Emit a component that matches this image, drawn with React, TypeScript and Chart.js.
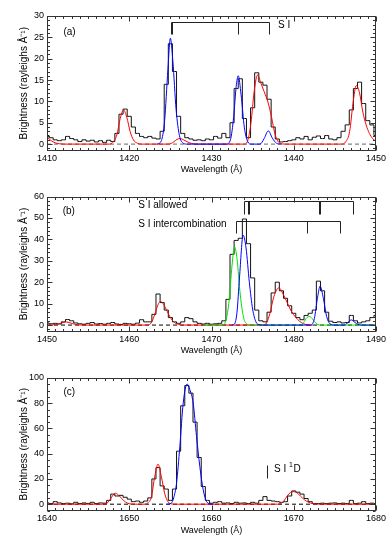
import React, { useEffect, useRef } from "react";
import { Chart, registerables } from "chart.js";

Chart.register(...registerables);

const FONT_FAMILY = "'Liberation Sans', Arial, Helvetica, sans-serif";

// ---------------- Panel (a) data ----------------
const histStartA = 1410;
const histStepA = 0.5;
const histA = [
  2.0, 1.5, 1.0, 0.8, 1.0, 1.8, 1.3, 1.0, 0.6, 1.0,
  0.7, 0.9, 0.5, 0.8, 0.4, 0.9, 0.6, 2.5, 7.0, 8.2,
  6.5, 4.0, 2.5, 1.8, 1.5, 1.8, 1.4, 1.2, 3.0, 14.0,
  23.5, 17.0, 6.5, 2.5, 1.5, 1.2, 0.9, 1.0, 0.8, 1.2,
  1.0, 1.8, 1.4, 2.5, 1.5, 5.0, 13.0, 15.3, 6.0, 1.5,
  8.5, 16.7, 14.5, 13.8, 10.5, 4.0, 1.2, 0.5, 0.6, 0.8,
  1.0, 1.5, 1.2, 1.8, 1.0, 1.6, 1.9, 1.3, 2.0, 1.2,
  1.0, 1.5, 3.0, 4.5, 8.0, 13.0, 14.5, 9.5, 5.5, 4.5,
  2.0,
];
const redFitA = [
  [1410, 1.7], [1410.5, 0.8], [1411, 0.3], [1411.5, 0.08], [1412, 0], [1417.6, 0],
  [1418, 0.4], [1418.5, 2.2], [1418.9, 6.0], [1419.3, 8.0], [1419.7, 6.3], [1420.1, 3.0],
  [1420.5, 1.0], [1421, 0.2], [1421.5, 0], [1424.8, 0], [1425.4, 0.5], [1425.8, 1.1],
  [1426.2, 1.3], [1426.6, 1.0], [1427.1, 0.5], [1427.6, 0.15], [1428.2, 0], [1434.0, 0],
  [1434.4, 0.8], [1434.8, 5.0], [1435.2, 12.5], [1435.6, 16.2], [1436.0, 14.3], [1436.4, 12.3],
  [1436.9, 9.6], [1437.3, 6.3], [1437.7, 2.5], [1438.1, 0.6], [1438.6, 0.05], [1439, 0],
  [1445.8, 0], [1446.3, 0.5], [1446.8, 3.0], [1447.2, 9.5], [1447.6, 13.7], [1448.0, 12.0],
  [1448.4, 7.5], [1448.8, 4.5], [1449.2, 2.5], [1449.6, 1.3], [1450, 0.6],
];
const blueFitA = [
  [1423.4, 0], [1423.9, 0.8], [1424.3, 5.5], [1424.7, 17.5], [1425.0, 24.8], [1425.3, 19.5],
  [1425.7, 8.0], [1426.1, 2.0], [1426.5, 0.3], [1427, 0], [1431.8, 0], [1432.3, 1.0],
  [1432.7, 6.5], [1433.0, 13.5], [1433.25, 16.0], [1433.6, 11.5], [1434.0, 3.8], [1434.4, 0.6],
  [1434.8, 0], [1435.9, 0], [1436.4, 1.3], [1436.9, 3.1], [1437.4, 1.4], [1437.9, 0.2], [1438.4, 0],
];
const xTicksA = [1410, 1420, 1430, 1440, 1450];
const yTicksA = [0, 5, 10, 15, 20, 25, 30];
const siLinesA = [1425.03, 1425.19, 1433.28, 1436.97];

// ---------------- Panel (b) data ----------------
const histStartB = 1450;
const histStepB = 0.5;
const histB = [
  1.0, 0.6, 0.8, 0.5, 1.5, 2.6, 2.0, 1.0, 0.6, 0.4,
  0.8, 1.2, 0.5, 0.7, 0.4, 0.8, 1.2, 0.5, 0.3, 0.8,
  0.6, 0.4, 0.9, 2.5, 1.5, 1.5, 5.0, 14.5, 10.5, 7.0,
  3.5, 1.5, 0.8, 1.5, 3.5, 3.0, 1.5, 0.8, 0.5, 0.8,
  0.4, 0.6, 0.8, 2.0, 12.0, 33.0, 39.5, 40.5, 49.5, 38.0,
  22.0, 7.0, 2.0, 1.5, 6.0, 15.0, 20.0, 16.0, 12.5, 9.0,
  5.5, 3.5, 2.5, 4.5, 5.5, 7.0, 20.5, 16.0, 6.0, 1.8,
  1.2, 1.5, 1.0, 1.2, 4.5, 2.0, 1.0, 1.5, 2.0, 3.5,
  4.5,
];
const redFitB = [
  [1450, 0], [1451, 0.2], [1451.8, 1.0], [1452.3, 1.5], [1452.8, 1.0], [1453.5, 0.3],
  [1454.2, 0], [1462.2, 0], [1462.7, 1.2], [1463.1, 5.0], [1463.5, 9.5], [1463.8, 11.0],
  [1464.2, 9.5], [1464.6, 6.5], [1465.0, 3.5], [1465.5, 1.2], [1466.0, 0.3], [1466.5, 0],
  [1476.3, 0], [1476.7, 1.0], [1477.1, 5.5], [1477.6, 13.5], [1478.2, 17.4], [1478.7, 14.5],
  [1479.2, 10.5], [1479.7, 6.5], [1480.2, 3.8], [1480.7, 1.8], [1481.2, 0.6], [1481.8, 0.1],
  [1482.3, 0],
];
const greenFitB = [
  [1469, 0], [1471.3, 0], [1471.7, 1.5], [1472.1, 10], [1472.5, 28], [1472.8, 36.6],
  [1473.1, 31], [1473.5, 14], [1473.9, 3.5], [1474.3, 0.5], [1474.8, 0], [1480.8, 0],
  [1481.2, 1.2], [1481.6, 3.5], [1481.9, 4.0], [1482.3, 2.8], [1482.7, 0.8], [1483.2, 0],
  [1490, 0],
];
const blueFitB = [
  [1472.5, 0], [1472.8, 0.5], [1473.1, 6], [1473.4, 22], [1473.85, 41.9], [1474.2, 36],
  [1474.6, 20], [1475.0, 7.5], [1475.4, 1.5], [1475.8, 0.2], [1476.2, 0], [1482.1, 0],
  [1482.5, 3], [1482.9, 13], [1483.2, 18.2], [1483.6, 12.5], [1484.0, 4], [1484.4, 0.6],
  [1484.9, 0], [1486.2, 0], [1486.6, 1.3], [1487.0, 2.4], [1487.4, 1.3], [1487.9, 0.2],
  [1488.4, 0], [1490, 0],
];
const xTicksB = [1450, 1460, 1470, 1480, 1490];
const yTicksB = [0, 10, 20, 30, 40, 50, 60];
const siAllowedLinesB = [1473.99, 1474.38, 1474.57, 1483.04, 1483.23, 1487.15];
const siInterLinesB = [1472.97, 1481.66, 1485.62];

// ---------------- Panel (c) data ----------------
const histStartC = 1640;
const histStepC = 0.5;
const histC = [
  1.0, 0.5, 2.0, 1.0, 0.5, 0.8, 0.3, 1.5, 0.5, 1.0,
  0.6, 1.5, 0.5, 1.0, 0.8, 3.0, 8.0, 6.5, 7.0, 5.5,
  4.0, 2.0, 2.5, 1.5, 2.5, 5.0, 20.0, 29.0, 14.5, 12.0,
  3.0, 12.0, 42.0, 78.0, 94.0, 88.0, 65.0, 37.0, 14.0, 3.0,
  0.8, 1.5, 2.0, 0.8, 1.0, 0.5, 1.5, 0.8, 1.0, 0.5,
  1.5, 0.8, 3.0, 6.0, 3.0, 2.5, 2.0, 1.5, 2.0, 6.5,
  10.5, 9.5, 8.0, 4.5, 2.0, 0.5, 0.5, 0.8, 0.5, 0.8,
  1.0, 0.5, 0.8, 0.5, 3.0, 0.5, 0.8, 2.0, 0.5, 0.8,
  0.5,
];
const redFitC = [
  [1640, 0], [1646.8, 0], [1647.3, 0.8], [1647.8, 5], [1648.3, 8.7], [1648.8, 6.5],
  [1649.3, 3], [1649.8, 0.8], [1650.3, 0.1], [1650.8, 0], [1651.8, 0], [1652.3, 1.2],
  [1652.7, 6.0], [1653.1, 22], [1653.5, 31.7], [1653.9, 22], [1654.3, 8.7], [1654.7, 2.0],
  [1655.1, 0.3], [1655.6, 0], [1668.0, 0], [1668.4, 0.5], [1668.8, 2.5], [1669.2, 6.5],
  [1669.6, 9.2], [1670.0, 10.0], [1670.4, 9.0], [1670.8, 6.5], [1671.3, 3.5], [1671.8, 1.5],
  [1672.3, 0.5], [1673, 0], [1680, 0],
];
const blueFitC = [
  [1654.6, 0], [1655.1, 0.8], [1655.4, 5], [1655.75, 16.7], [1656.15, 45.8], [1656.56, 80.2],
  [1657.04, 95.2], [1657.37, 90.7], [1657.77, 80.2], [1658.18, 53.7], [1658.58, 29.9],
  [1658.99, 11.4], [1659.4, 2.1], [1659.8, 0.3], [1660.2, 0],
];
const xTicksC = [1640, 1650, 1660, 1670, 1680];
const yTicksC = [0, 20, 40, 60, 80, 100];
const siDLineC = [1666.7];

// ---------------- helpers ----------------
type Bracket = { lines: number[]; top: number; bottom: number };
type Label = { x: number; y: number; text: string; sup?: string; after?: string };

type PanelDef = {
  canvasTop: number;
  canvasHeight: number;
  padTop: number;
  xMin: number;
  xMax: number;
  yMin: number;
  yMax: number;
  xTicks: number[];
  yTicks: number[];
  xMinorStep: number;
  yMinorStep: number;
  histStart: number;
  histStep: number;
  hist: number[];
  fits: { data: number[][]; color: string }[];
  zeroColor: string;
  brackets: Bracket[];
  labels: Label[];
  titleBottomPad: number;
};

const panels: PanelDef[] = [
  {
    canvasTop: 0,
    canvasHeight: 181,
    padTop: 16,
    xMin: 1410, xMax: 1450, yMin: -1.5, yMax: 30,
    xTicks: xTicksA, yTicks: yTicksA, xMinorStep: 1, yMinorStep: 1,
    histStart: histStartA, histStep: histStepA, hist: histA,
    fits: [
      { data: blueFitA, color: "#0000ff" },
      { data: redFitA, color: "#ff0000" },
    ],
    zeroColor: "#666666",
    brackets: [{ lines: siLinesA, top: 28.6, bottom: 25.8 }],
    labels: [
      { x: 1412.0, y: 26.1, text: "(a)" },
      { x: 1438.1, y: 27.9, text: "S I" },
    ],
    titleBottomPad: 6.5,
  },
  {
    canvasTop: 181,
    canvasHeight: 181,
    padTop: 15.5,
    xMin: 1450, xMax: 1490, yMin: -3, yMax: 60,
    xTicks: xTicksB, yTicks: yTicksB, xMinorStep: 1, yMinorStep: 2,
    histStart: histStartB, histStep: histStepB, hist: histB,
    fits: [
      { data: blueFitB, color: "#0000ff" },
      { data: greenFitB, color: "#00e000" },
      { data: redFitB, color: "#ff0000" },
    ],
    zeroColor: "#000000",
    brackets: [
      { lines: siAllowedLinesB, top: 57.9, bottom: 51.8 },
      { lines: siInterLinesB, top: 48.6, bottom: 42.8 },
    ],
    labels: [
      { x: 1451.9, y: 53.2, text: "(b)" },
      { x: 1461.1, y: 56.0, text: "S I allowed" },
      { x: 1461.1, y: 47.2, text: "S I intercombination" },
    ],
    titleBottomPad: 6.5,
  },
  {
    canvasTop: 362,
    canvasHeight: 179,
    padTop: 16,
    xMin: 1640, xMax: 1680, yMin: -5, yMax: 100,
    xTicks: xTicksC, yTicks: yTicksC, xMinorStep: 1, yMinorStep: 5,
    histStart: histStartC, histStep: histStepC, hist: histC,
    fits: [
      { data: blueFitC, color: "#0000ff" },
      { data: redFitC, color: "#ff0000" },
    ],
    zeroColor: "#000000",
    brackets: [{ lines: siDLineC, top: 31.2, bottom: 20.9 }],
    labels: [
      { x: 1642.0, y: 88.6, text: "(c)" },
      { x: 1667.6, y: 28.0, text: "S I ", sup: "1", after: "D" },
    ],
    titleBottomPad: 5.5,
  },
];

const framePlugin = {
  id: "idlFrame",
  afterDraw(chart: any, _args: any, opts: any) {
    const def: PanelDef = opts.def;
    if (!def) return;
    const { ctx, chartArea } = chart;
    const { left, right, top, bottom } = chartArea;
    const xs = chart.scales.x;
    const ys = chart.scales.y;
    ctx.save();
    ctx.strokeStyle = "#333333";
    ctx.lineWidth = 1;
    const L = Math.round(left) + 0.5;
    const R = Math.round(right) - 0.5;
    const T = Math.round(top) + 0.5;
    const B = Math.round(bottom) - 0.5;
    ctx.strokeRect(L, T, R - L, B - T);

    ctx.beginPath();
    const eps = 1e-6;
    for (let v = def.xMin; v <= def.xMax + eps; v += def.xMinorStep) {
      const isMajor = def.xTicks.some((t) => Math.abs(t - v) < eps);
      const len = isMajor ? 5 : 2.5;
      const px = Math.round(xs.getPixelForValue(v)) + 0.5;
      ctx.moveTo(px, B);
      ctx.lineTo(px, B - len);
      ctx.moveTo(px, T);
      ctx.lineTo(px, T + len);
    }
    const yStart = Math.ceil(def.yMin / def.yMinorStep) * def.yMinorStep;
    for (let v = yStart; v <= def.yMax + eps; v += def.yMinorStep) {
      const isMajor = def.yTicks.some((t) => Math.abs(t - v) < eps);
      const len = isMajor ? 5 : 2.5;
      const py = Math.round(ys.getPixelForValue(v)) + 0.5;
      ctx.moveTo(L, py);
      ctx.lineTo(L + len, py);
      ctx.moveTo(R, py);
      ctx.lineTo(R - len, py);
    }
    ctx.stroke();

    // brackets
    ctx.strokeStyle = "#222222";
    ctx.beginPath();
    for (const b of def.brackets) {
      const yT = Math.round(ys.getPixelForValue(b.top)) + 0.5;
      const yB = Math.round(ys.getPixelForValue(b.bottom)) + 0.5;
      const xsP = b.lines.map((l) => Math.round(xs.getPixelForValue(l)) + 0.5);
      if (xsP.length > 1) {
        ctx.moveTo(Math.min(...xsP), yT);
        ctx.lineTo(Math.max(...xsP), yT);
      }
      for (const px of xsP) {
        ctx.moveTo(px, yT);
        ctx.lineTo(px, yB);
      }
    }
    ctx.stroke();

    // labels
    ctx.fillStyle = "#000000";
    ctx.textBaseline = "middle";
    ctx.textAlign = "left";
    for (const lab of def.labels) {
      const px = xs.getPixelForValue(lab.x);
      const py = ys.getPixelForValue(lab.y);
      ctx.font = `10px ${FONT_FAMILY}`;
      ctx.fillText(lab.text, px, py);
      let cx = px + ctx.measureText(lab.text).width;
      if (lab.sup) {
        ctx.font = `7px ${FONT_FAMILY}`;
        ctx.fillText(lab.sup, cx, py - 4);
        cx += ctx.measureText(lab.sup).width + 0.5;
      }
      if (lab.after) {
        ctx.font = `10px ${FONT_FAMILY}`;
        ctx.fillText(lab.after, cx, py);
      }
    }
    ctx.restore();
  },
};

function Panel({ def }: { def: PanelDef }) {
  const ref = useRef<HTMLCanvasElement | null>(null);

  useEffect(() => {
    if (!ref.current) return;
    const histData = def.hist.map((v, i) => ({ x: def.histStart + i * def.histStep, y: v }));
    const fitSets = def.fits.map((f) => ({
      data: f.data.map(([x, y]) => ({ x, y })),
      borderColor: f.color,
      borderWidth: 1,
      pointRadius: 0,
      fill: false,
      cubicInterpolationMode: "monotone" as const,
      order: 0,
    }));
    const plotH = def.canvasHeight - def.padTop - 30.5;
    const chart = new Chart(ref.current, {
      type: "line",
      data: {
        datasets: [
          ...fitSets,
          {
            data: histData,
            borderColor: "#111111",
            borderWidth: 1,
            pointRadius: 0,
            fill: false,
            stepped: "middle" as const,
            order: 1,
          },
          {
            data: [
              { x: def.xMin, y: 0 },
              { x: def.xMax, y: 0 },
            ],
            borderColor: def.zeroColor,
            borderWidth: 1,
            borderDash: [4, 3],
            pointRadius: 0,
            fill: false,
            order: 2,
          },
        ],
      },
      options: {
        responsive: false,
        animation: false,
        devicePixelRatio: 1,
        layout: { padding: { top: def.padTop, left: 0, right: 14, bottom: 0 } },
        plugins: {
          legend: { display: false },
          tooltip: { enabled: false },
          idlFrame: { def },
        } as any,
        scales: {
          x: {
            type: "linear",
            min: def.xMin,
            max: def.xMax,
            afterBuildTicks: (s: any) => {
              s.ticks = def.xTicks.map((v) => ({ value: v }));
            },
            afterFit: (s: any) => {
              s.height = def.canvasHeight - def.padTop - plotH;
            },
            grid: { display: false, drawTicks: false },
            border: { display: false },
            ticks: {
              autoSkip: false,
              maxRotation: 0,
              padding: 3,
              color: "#000000",
              font: { family: FONT_FAMILY, size: 9 },
              callback: (v: any) => String(v),
            },
            title: {
              display: true,
              text: "Wavelength (Å)",
              color: "#000000",
              font: { family: FONT_FAMILY, size: 9 },
              padding: { top: 0, bottom: def.titleBottomPad },
            },
          },
          y: {
            type: "linear",
            min: def.yMin,
            max: def.yMax,
            afterBuildTicks: (s: any) => {
              s.ticks = def.yTicks.map((v) => ({ value: v }));
            },
            afterFit: (s: any) => {
              s.width = 47;
            },
            grid: { display: false, drawTicks: false },
            border: { display: false },
            ticks: {
              padding: 3,
              color: "#000000",
              font: { family: FONT_FAMILY, size: 9 },
              callback: (v: any) => String(v),
            },
            title: {
              display: true,
              text: "Brightness (rayleighs Å⁻¹)",
              color: "#000000",
              font: { family: FONT_FAMILY, size: 10 },
              padding: { top: 18.5, bottom: 0 },
            },
          },
        },
      },
      plugins: [framePlugin],
    } as any);
    return () => chart.destroy();
  }, [def]);

  return (
    <canvas
      ref={ref}
      width={390}
      height={def.canvasHeight}
      style={{
        position: "absolute",
        left: 0,
        top: def.canvasTop,
        width: 390,
        height: def.canvasHeight,
        display: "block",
      }}
    />
  );
}

export default function App() {
  return (
    <div
      style={{
        position: "absolute",
        left: 0,
        top: 0,
        width: 390,
        height: 541,
        background: "#ffffff",
        overflow: "hidden",
      }}
    >
      {panels.map((p, i) => (
        <Panel key={i} def={p} />
      ))}
    </div>
  );
}
